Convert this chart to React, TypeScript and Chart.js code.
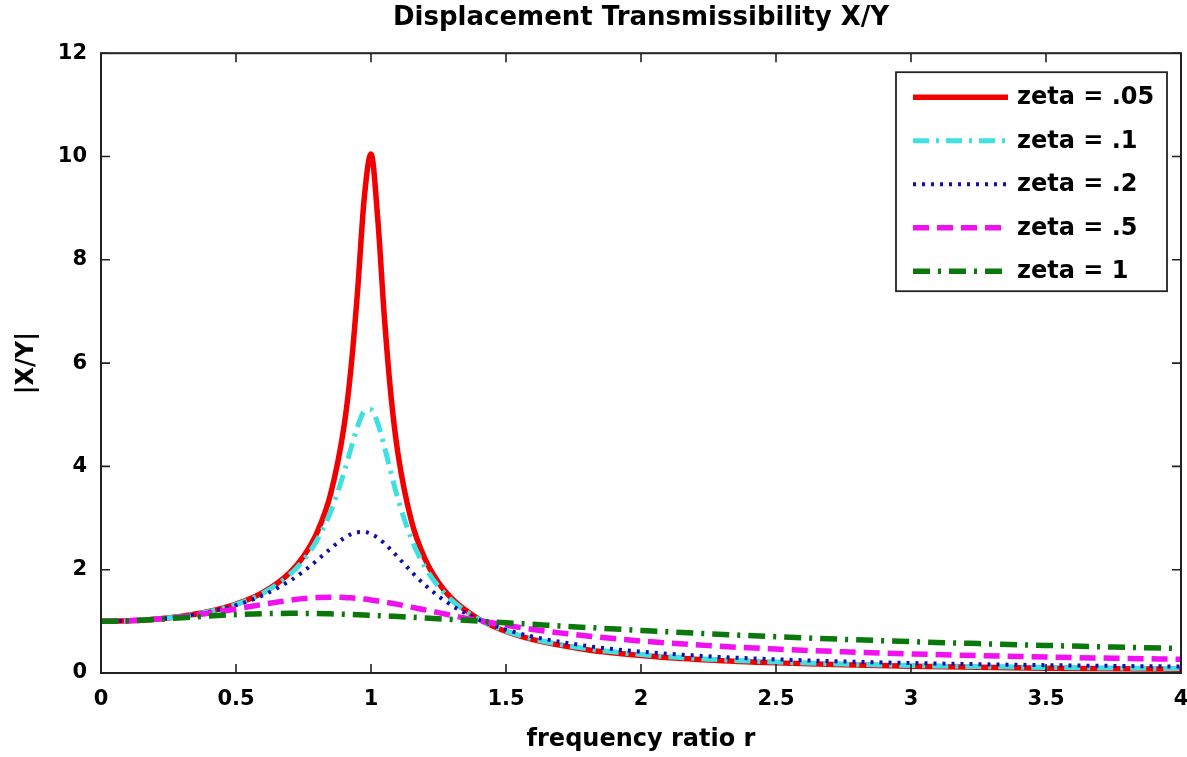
import { useEffect, useRef } from 'react';
import { Chart, registerables } from 'chart.js';

Chart.register(...registerables);

// frequency ratio r (x values)
const frequencyRatio = [0, 0.1, 0.2, 0.3, 0.4, 0.5, 0.6, 0.7, 0.75, 0.8, 0.85, 0.9, 0.925, 0.95, 0.975, 1.0, 1.025, 1.05, 1.075, 1.1, 1.15, 1.2, 1.25, 1.3, 1.4, 1.5, 1.6, 1.8, 2.0, 2.25, 2.5, 2.75, 3.0, 3.25, 3.5, 3.75, 4.0];

// |X/Y| read for each damping ratio
const zeta005 = [1, 1.010, 1.042, 1.099, 1.190, 1.332, 1.559, 1.947, 2.259, 2.720, 3.458, 4.776, 5.857, 7.379, 9.194, 10.050, 8.793, 6.853, 5.317, 4.244, 2.940, 2.208, 1.749, 1.436, 1.041, 0.803, 0.646, 0.452, 0.339, 0.252, 0.196, 0.158, 0.130, 0.110, 0.094, 0.082, 0.072];
const zeta01 = [1, 1.010, 1.042, 1.099, 1.189, 1.328, 1.547, 1.909, 2.186, 2.571, 3.117, 3.882, 4.334, 4.766, 5.065, 5.099, 4.834, 4.373, 3.854, 3.367, 2.590, 2.052, 1.675, 1.401, 1.039, 0.812, 0.659, 0.469, 0.356, 0.268, 0.212, 0.173, 0.145, 0.124, 0.108, 0.096, 0.085];
const zeta02 = [1, 1.010, 1.041, 1.097, 1.184, 1.314, 1.505, 1.785, 1.968, 2.180, 2.407, 2.611, 2.685, 2.727, 2.730, 2.693, 2.616, 2.509, 2.380, 2.241, 1.959, 1.704, 1.486, 1.305, 1.031, 0.841, 0.704, 0.524, 0.413, 0.323, 0.265, 0.223, 0.193, 0.170, 0.152, 0.137, 0.125];
const zeta05 = [1, 1.010, 1.040, 1.090, 1.158, 1.240, 1.329, 1.409, 1.440, 1.460, 1.468, 1.463, 1.455, 1.444, 1.431, 1.414, 1.395, 1.374, 1.352, 1.328, 1.276, 1.222, 1.168, 1.114, 1.014, 0.923, 0.844, 0.717, 0.620, 0.530, 0.463, 0.411, 0.370, 0.337, 0.309, 0.286, 0.266];
const zeta1 = [1, 1.010, 1.036, 1.070, 1.104, 1.131, 1.149, 1.155, 1.154, 1.151, 1.145, 1.138, 1.133, 1.129, 1.124, 1.118, 1.112, 1.106, 1.100, 1.094, 1.080, 1.066, 1.051, 1.036, 1.005, 0.973, 0.942, 0.881, 0.825, 0.760, 0.703, 0.652, 0.608, 0.569, 0.534, 0.502, 0.474];

const seriesLabels = ['zeta = .05', 'zeta = .1', 'zeta = .2', 'zeta = .5', 'zeta = 1'];
const xTickLabels = ['0', '0.5', '1', '1.5', '2', '2.5', '3', '3.5', '4'];
const yTickLabels = ['0', '2', '4', '6', '8', '10', '12'];

const FONT = '"DejaVu Sans", "Liberation Sans", sans-serif';

const toPoints = (ys: number[]) => frequencyRatio.map((x, i) => ({ x, y: ys[i] }));

const framePlugin = {
  id: 'matlabFrame',
  afterDatasetsDraw(chart: any) {
    const { ctx, chartArea: a, scales } = chart;
    ctx.save();
    ctx.setLineDash([]);
    ctx.strokeStyle = '#222';
    ctx.lineWidth = 2;
    ctx.strokeRect(a.left, a.top, a.right - a.left, a.bottom - a.top);
    const tl = 9;
    ctx.lineWidth = 1.6;
    ctx.beginPath();
    scales.x.ticks.forEach((t: any) => {
      const px = scales.x.getPixelForValue(t.value);
      ctx.moveTo(px, a.bottom);
      ctx.lineTo(px, a.bottom - tl);
      ctx.moveTo(px, a.top);
      ctx.lineTo(px, a.top + tl);
    });
    scales.y.ticks.forEach((t: any) => {
      const py = scales.y.getPixelForValue(t.value);
      ctx.moveTo(a.left, py);
      ctx.lineTo(a.left + tl, py);
      ctx.moveTo(a.right, py);
      ctx.lineTo(a.right - tl, py);
    });
    ctx.stroke();

    // legend box
    const boxW = 271;
    const boxH = 219;
    const bx = a.right - 14 - boxW;
    const by = a.top + 19;
    ctx.fillStyle = '#ffffff';
    ctx.fillRect(bx, by, boxW, boxH);
    ctx.strokeStyle = '#222';
    ctx.lineWidth = 1.8;
    ctx.strokeRect(bx, by, boxW, boxH);
    chart.data.datasets.forEach((ds: any, i: number) => {
      const y = by + 25 + i * 43.5;
      ctx.save();
      ctx.setLineDash(ds.borderDash || []);
      ctx.strokeStyle = ds.borderColor;
      ctx.lineWidth = ds.borderWidth;
      ctx.lineCap = 'butt';
      ctx.beginPath();
      ctx.moveTo(bx + 17, y);
      ctx.lineTo(bx + 112, y);
      ctx.stroke();
      ctx.restore();
      ctx.fillStyle = '#000';
      ctx.font = `bold 24px ${FONT}`;
      ctx.textBaseline = 'middle';
      ctx.textAlign = 'left';
      ctx.fillText(ds.label, bx + 121, y + 1);
    });
    ctx.restore();
  },
};

export default function App() {
  const canvasRef = useRef<HTMLCanvasElement | null>(null);

  useEffect(() => {
    const canvas = canvasRef.current;
    if (!canvas) return;
    Chart.defaults.font.family = FONT;
    const chart = new Chart(canvas, {
      type: 'line',
      data: {
        datasets: [
          { label: seriesLabels[0], data: toPoints(zeta005), borderColor: '#f20000', borderWidth: 5.5, borderDash: [], order: 5 },
          { label: seriesLabels[1], data: toPoints(zeta01), borderColor: '#3ee0e0', borderWidth: 5, borderDash: [16, 7, 3, 7], order: 4 },
          { label: seriesLabels[2], data: toPoints(zeta02), borderColor: '#1010b0', borderWidth: 4, borderDash: [3, 6], order: 3 },
          { label: seriesLabels[3], data: toPoints(zeta05), borderColor: '#f010f0', borderWidth: 5.5, borderDash: [16, 8], order: 2 },
          { label: seriesLabels[4], data: toPoints(zeta1), borderColor: '#0a780a', borderWidth: 5.5, borderDash: [17, 8, 3, 8], order: 1 },
        ],
      },
      options: {
        animation: false,
        responsive: false,
        devicePixelRatio: 1,
        parsing: false as any,
        layout: { padding: { left: 0, right: 6, top: 0, bottom: 0 } },
        elements: {
          point: { radius: 0 },
          line: { cubicInterpolationMode: 'monotone', fill: false, borderCapStyle: 'butt' },
        },
        plugins: {
          legend: { display: false },
          tooltip: { enabled: false },
          title: {
            display: true,
            fullSize: false,
            text: 'Displacement Transmissibility X/Y',
            color: '#000',
            font: { family: FONT, size: 26, weight: 'bold' },
            padding: { top: 3, bottom: 19 },
          },
        },
        scales: {
          x: {
            type: 'linear',
            min: 0,
            max: 4,
            afterFit: (s: any) => { s.height = 84; s.paddingRight = 0; s.paddingLeft = 0; },
            grid: { display: false, drawTicks: false },
            border: { display: false },
            ticks: {
              stepSize: 0.5,
              padding: 14,
              color: '#000',
              maxRotation: 0,
              autoSkip: false,
              font: { family: FONT, size: 21, weight: 'bold' },
              callback: (_v: any, i: number) => xTickLabels[i],
            },
            title: {
              display: true,
              text: 'frequency ratio r',
              color: '#000',
              font: { family: FONT, size: 24, weight: 'bold' },
              padding: { top: 0, bottom: 3 },
            },
          },
          y: {
            type: 'linear',
            min: 0,
            max: 12,
            afterFit: (s: any) => { s.width = 101; s.paddingTop = 0; s.paddingBottom = 0; },
            grid: { display: false, drawTicks: false },
            border: { display: false },
            ticks: {
              stepSize: 2,
              padding: 14,
              color: '#000',
              autoSkip: false,
              font: { family: FONT, size: 21, weight: 'bold' },
              callback: (_v: any, i: number) => yTickLabels[i],
            },
            title: {
              display: true,
              text: '|X/Y|',
              color: '#000',
              font: { family: FONT, size: 24, weight: 'bold' },
              padding: { top: 12, bottom: 0 },
            },
          },
        },
      },
      plugins: [framePlugin],
    } as any);
    return () => chart.destroy();
  }, []);

  return (
    <div style={{ position: 'absolute', left: 0, top: 0, width: 1187, height: 757, background: '#fff' }}>
      <canvas ref={canvasRef} width={1187} height={757} style={{ width: 1187, height: 757, display: 'block' }} />
    </div>
  );
}
